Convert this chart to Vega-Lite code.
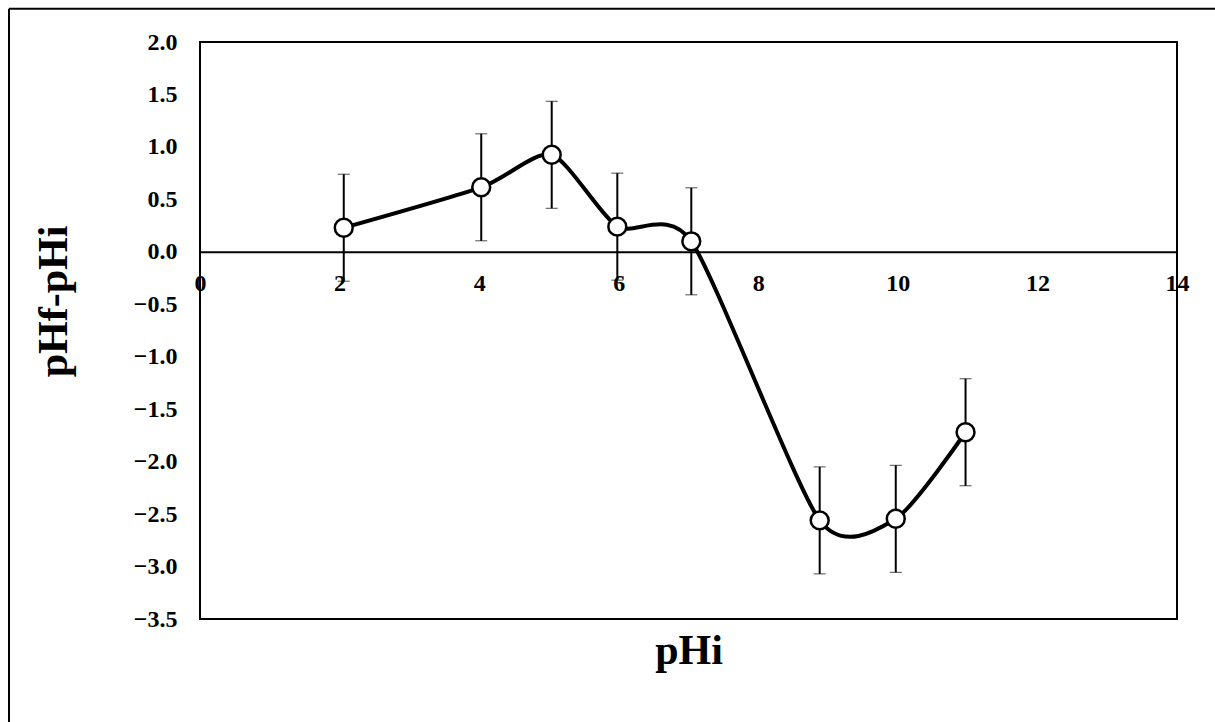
{
  "$schema": "https://vega.github.io/schema/vega-lite/v6.json",
  "width": 977,
  "height": 577,
  "autosize": {"type": "none"},
  "padding": {"left": 200, "top": 42, "right": 38, "bottom": 103},
  "background": "white",
  "config": {
    "view": {"stroke": "black", "strokeWidth": 2},
    "font": "Liberation Serif"
  },
  "datasets": {
    "measurements": [
      {"pHi": 2.06, "dpH": 0.23, "lo": -0.28, "hi": 0.74},
      {"pHi": 4.03, "dpH": 0.615, "lo": 0.105, "hi": 1.125},
      {"pHi": 5.04, "dpH": 0.925, "lo": 0.415, "hi": 1.435},
      {"pHi": 5.98, "dpH": 0.24, "lo": -0.27, "hi": 0.75},
      {"pHi": 7.04, "dpH": 0.1, "lo": -0.41, "hi": 0.61},
      {"pHi": 8.88, "dpH": -2.56, "lo": -3.07, "hi": -2.05},
      {"pHi": 9.97, "dpH": -2.545, "lo": -3.055, "hi": -2.035},
      {"pHi": 10.97, "dpH": -1.72, "lo": -2.23, "hi": -1.21}
    ],
    "chartFrame": [
      {"x0": -2.737, "x1": -2.737, "y0": 2.317, "y1": -5},
      {"x0": -2.737, "x1": 15, "y0": 2.317, "y1": 2.317}
    ]
  },
  "data": {"name": "measurements"},
  "encoding": {
    "x": {
      "field": "pHi",
      "type": "quantitative",
      "scale": {"domain": [0, 14], "nice": false, "zero": false},
      "axis": {
        "orient": "bottom",
        "offset": -367.2,
        "values": [0, 2, 4, 6, 8, 10, 12, 14],
        "format": "d",
        "grid": false,
        "ticks": false,
        "domain": true,
        "domainColor": "black",
        "domainWidth": 2,
        "labelFont": "Liberation Serif",
        "labelFontSize": 24,
        "labelFontWeight": "bold",
        "labelColor": "black",
        "labelPadding": 20,
        "labelFlush": false,
        "labelOverlap": false,
        "labelBound": false,
        "title": "pHi",
        "titleFont": "Liberation Serif",
        "titleFontSize": 42,
        "titleFontWeight": "bold",
        "titleColor": "black",
        "titleBaseline": "alphabetic",
        "titleY": 412
      }
    },
    "y": {
      "field": "dpH",
      "type": "quantitative",
      "scale": {"domain": [-3.5, 2], "nice": false, "zero": false},
      "axis": {
        "orient": "left",
        "values": [-3.5, -3, -2.5, -2, -1.5, -1, -0.5, 0, 0.5, 1, 1.5, 2],
        "format": ".1f",
        "grid": false,
        "ticks": false,
        "domain": false,
        "labelFont": "Liberation Serif",
        "labelFontSize": 24,
        "labelFontWeight": "bold",
        "labelColor": "black",
        "labelPadding": 23,
        "labelFlush": false,
        "labelOverlap": false,
        "labelBound": false,
        "title": "pHf-pHi",
        "titleFont": "Liberation Serif",
        "titleFontSize": 42,
        "titleFontWeight": "bold",
        "titleColor": "black",
        "titleBaseline": "alphabetic",
        "titleAngle": -90,
        "titleAlign": "center",
        "titleX": -134,
        "titleY": 259
      }
    }
  },
  "layer": [
    {
      "data": {"name": "chartFrame"},
      "mark": {"type": "rule", "color": "black", "strokeWidth": 2, "clip": false},
      "encoding": {
        "x": {"field": "x0", "type": "quantitative"},
        "x2": {"field": "x1"},
        "y": {"field": "y0", "type": "quantitative"},
        "y2": {"field": "y1"}
      }
    },
    {
      "mark": {
        "type": "errorbar",
        "color": "black",
        "ticks": {"size": 12, "color": "black", "strokeWidth": 2},
        "rule": {"strokeWidth": 2, "color": "black"}
      },
      "encoding": {
        "y": {"field": "lo", "type": "quantitative"},
        "y2": {"field": "hi"}
      }
    },
    {
      "mark": {
        "type": "line",
        "interpolate": "cardinal",
        "tension": 0.3,
        "color": "black",
        "strokeWidth": 4
      },
      "encoding": {}
    },
    {
      "mark": {
        "type": "point",
        "shape": "circle",
        "filled": true,
        "fill": "white",
        "stroke": "black",
        "strokeWidth": 2.5,
        "size": 320,
        "opacity": 1
      },
      "encoding": {}
    }
  ]
}
